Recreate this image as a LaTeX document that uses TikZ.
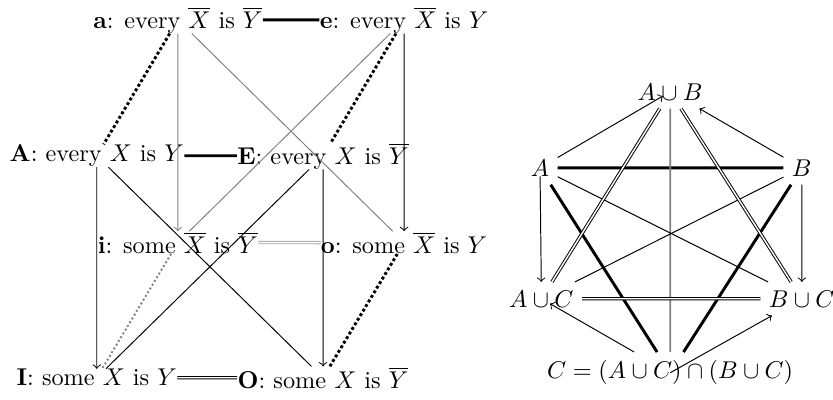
\documentclass[tikz,border=0pt]{standalone}
\usepackage{amsmath,amssymb}
\usepackage{tikz}

\newcommand{\nX}{\overline{X}}
\newcommand{\nY}{\overline{Y}}

\begin{document}
\begin{tikzpicture}[>=to,scale=1.03,
    stmt/.style={inner sep=0pt},
    contra/.style={very thick,densely dotted},
    contrary/.style={very thick},
    subalt/.style={double}]
  \useasboundingbox (0,0) rectangle (11.71,5.62);
  % the cube of the eight statements
  \node[stmt] (a) at (2.50,5.34) {\textbf{a}: every $\nX$ is $\nY$};
  \node[stmt] (e) at (5.68,5.34) {\textbf{e}: every $\nX$ is $Y$};
  \node[stmt] (A) at (1.36,3.43) {\textbf{A}: every $X$ is $Y$};
  \node[stmt] (E) at (4.54,3.43) {\textbf{E}: every $X$ is $\nY$};
  \node[stmt] (i) at (2.50,2.21) {\textbf{i}: some $\nX$ is $\nY$};
  \node[stmt] (o) at (5.68,2.21) {\textbf{o}: some $\nX$ is $Y$};
  \node[stmt] (I) at (1.36,0.31) {\textbf{I}: some $X$ is $Y$};
  \node[stmt] (O) at (4.54,0.31) {\textbf{O}: some $X$ is $\nY$};
  \draw[contrary] (a) -- (e);
  \draw[contrary] (A) -- (E);
  \draw[subalt,gray!70] (i) -- (o);
  \draw[subalt] (I) -- (O);
  \draw[contra] (a) -- (A);
  \draw[contra] (e) -- (E);
  \draw[contra] (o) -- (O);
  \draw[gray,thick,densely dotted] (i) -- (I);
  \draw[->,gray] (a) -- (i);
  \draw[->] (e) -- (o);
  \draw[->] (A) -- (I);
  \draw[->] (E) -- (O);
  \draw[gray] (a) -- (o);
  \draw[gray] (e) -- (i);
  \draw (A) -- (O);
  \draw (E) -- (I);
  % the hexagon of sets
  \node (AuB) at (9.42,4.33) {$A\cup B$};
  \node (sA) at (7.59,3.26) {$A$};
  \node (sB) at (11.27,3.26) {$B$};
  \node (AuC) at (7.61,1.42) {$A\cup C$};
  \node (BuC) at (11.27,1.42) {$B\cup C$};
  \node (sC) at (9.42,0.38) {$C=(A\cup C)\cap(B\cup C)$};
  \draw[contrary] (sA) -- (sB);
  \draw[contrary] (sA) -- (sC);
  \draw[contrary] (sB) -- (sC);
  \draw[gray,thick] (AuB) -- (sC);
  \draw (sA) -- (BuC);
  \draw (sB) -- (AuC);
  \draw[subalt] (AuB) -- (AuC);
  \draw[subalt] (AuB) -- (BuC);
  \draw[subalt] (AuC) -- (BuC);
  \draw[->,shorten >=3.5pt] (sA) -- (AuB.center);
  \draw[->] (sB) -- (AuB);
  \draw[->,shorten <=3.5pt] (sA.center) -- (AuC);
  \draw[->] (sB) -- (BuC);
  \draw[->,shorten >=4pt] (sC) -- (AuC.center);
  \draw[->] (sC.center) -- (BuC);
\end{tikzpicture}
\end{document}
